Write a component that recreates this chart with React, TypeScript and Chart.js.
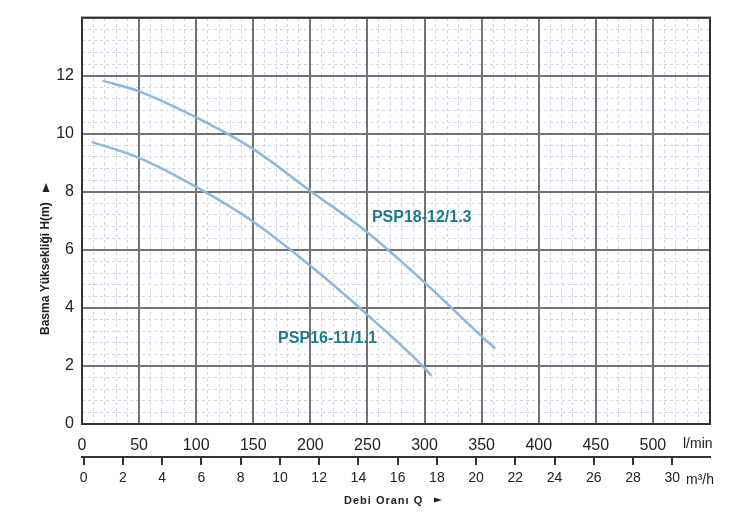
import React, { useEffect, useRef } from "react";
import { Chart, registerables } from "chart.js";

Chart.register(...registerables);

// ---- Data ----
const X_TICKS = [0, 50, 100, 150, 200, 250, 300, 350, 400, 450, 500, 550];
const Y_TICKS = [0, 2, 4, 6, 8, 10, 12, 14];
const M3H_TICKS = [0, 2, 4, 6, 8, 10, 12, 14, 16, 18, 20, 22, 24, 26, 28, 30];

const upperName = "PSP18-12/1.3";
const upperFlow = [18, 50, 100, 150, 200, 250, 300, 350, 362];
const upperHead = [11.83, 11.46, 10.56, 9.47, 8.03, 6.6, 4.88, 3.02, 2.6];

const lowerName = "PSP16-11/1.1";
const lowerFlow = [8.5, 50, 100, 150, 200, 250, 300, 306];
const lowerHead = [9.72, 9.17, 8.17, 6.97, 5.45, 3.76, 1.93, 1.66];

// label anchor positions (data units)
const upperLabelAt = [297.5, 7.12];
const lowerLabelAt = [215, 2.93];

const FONT = "'Liberation Sans', Arial, sans-serif";
const CURVE = "#8cb7de";
const TEAL = "#1b7c8a";

const range = (a: number, b: number, s: number) => {
  const out: number[] = [];
  for (let v = a; v <= b + 1e-9; v += s) out.push(Math.round(v * 1000) / 1000);
  return out;
};

const overlay = {
  id: "overlay",
  beforeDatasetsDraw(chart: any) {
    const { ctx, chartArea } = chart;
    ctx.save();
    ctx.strokeStyle = "#333";
    ctx.lineWidth = 2;
    ctx.strokeRect(chartArea.left, chartArea.top, chartArea.right - chartArea.left, chartArea.bottom - chartArea.top);
    ctx.restore();
  },
  afterDraw(chart: any) {
    const { ctx } = chart;
    const sx = chart.scales.x;
    const sy = chart.scales.y;
    ctx.save();
    // curve labels
    ctx.fillStyle = TEAL;
    ctx.font = `bold 16px ${FONT}`;
    ctx.textAlign = "center";
    ctx.textBaseline = "middle";
    ctx.fillText(upperName, sx.getPixelForValue(upperLabelAt[0]), sy.getPixelForValue(upperLabelAt[1]));
    ctx.fillText(lowerName, sx.getPixelForValue(lowerLabelAt[0]), sy.getPixelForValue(lowerLabelAt[1]));

    // unit labels
    ctx.fillStyle = "#222";
    ctx.textAlign = "left";
    ctx.textBaseline = "alphabetic";
    ctx.font = `14px ${FONT}`;
    ctx.fillText("l/min", 683, 448);
    ctx.fillText("m³/h", 686, 484);

    // x title
    ctx.font = `bold 11px ${FONT}`;
    (ctx as any).letterSpacing = "1px";
    ctx.fillText("Debi Oranı Q", 344, 504);
    (ctx as any).letterSpacing = "0px";
    ctx.beginPath();
    ctx.moveTo(434, 497.5);
    ctx.lineTo(442, 500);
    ctx.lineTo(434, 502.5);
    ctx.closePath();
    ctx.fill();

    // y title
    ctx.save();
    ctx.translate(49, 335);
    ctx.rotate(-Math.PI / 2);
    ctx.font = `bold 12px ${FONT}`;
    ctx.textAlign = "left";
    ctx.textBaseline = "alphabetic";
    ctx.fillText("Basma Yüksekliği H(m)", 0, 0);
    ctx.restore();
    ctx.beginPath();
    ctx.moveTo(46, 183);
    ctx.lineTo(49.5, 192);
    ctx.lineTo(42.5, 192);
    ctx.closePath();
    ctx.fill();
    ctx.restore();
  },
};

export default function App() {
  const ref = useRef<HTMLCanvasElement>(null);
  useEffect(() => {
    if (!ref.current) return;
    const mk = (xs: number[], ys: number[]) => xs.map((x, i) => ({ x, y: ys[i] }));
    const chart = new Chart(ref.current, {
      type: "line",
      data: {
        datasets: [
          {
            label: upperName,
            data: mk(upperFlow, upperHead),
            borderColor: CURVE,
            borderWidth: 2.5,
            pointRadius: 0,
            cubicInterpolationMode: "monotone",
            fill: false,
            xAxisID: "x",
            yAxisID: "y",
          },
          {
            label: lowerName,
            data: mk(lowerFlow, lowerHead),
            borderColor: CURVE,
            borderWidth: 2.5,
            pointRadius: 0,
            cubicInterpolationMode: "monotone",
            fill: false,
            xAxisID: "x",
            yAxisID: "y",
          },
        ],
      },
      options: {
        responsive: false,
        animation: false,
        events: [],
        layout: { padding: { top: 8, right: 32, left: 0, bottom: 0 } },
        plugins: { legend: { display: false }, tooltip: { enabled: false } },
        scales: {
          xMinor: {
            type: "linear",
            position: "top",
            min: 0,
            max: 550,
            z: -1,
            afterBuildTicks: (s: any) => { s.ticks = range(0, 550, 10).map((v) => ({ value: v })); },
            ticks: { display: false },
            grid: { color: "#d3d3e6", lineWidth: 1, drawTicks: false },
            border: { display: false, dash: [3, 3] },
            afterFit: (s: any) => { s.height = 0; },
          },
          yMinor: {
            type: "linear",
            position: "right",
            min: 0,
            max: 14,
            z: -1,
            afterBuildTicks: (s: any) => { s.ticks = range(0, 14, 0.4).map((v) => ({ value: v })); },
            ticks: { display: false },
            grid: { color: "#d3d3e6", lineWidth: 1, drawTicks: false },
            border: { display: false, dash: [3, 3] },
            afterFit: (s: any) => { s.width = 0; },
          },
          x: {
            type: "linear",
            position: "bottom",
            min: 0,
            max: 550,
            afterBuildTicks: (s: any) => { s.ticks = X_TICKS.map((v) => ({ value: v })); },
            ticks: {
              callback: (v: any) => (v === 550 ? "" : String(v)),
              font: { size: 16, family: FONT },
              color: "#222",
              padding: 12,
              maxRotation: 0,
              autoSkip: false,
            },
            grid: { color: "#727272", lineWidth: 2, drawTicks: false },
            border: { color: "#333", width: 2 },
            afterFit: (s: any) => { s.height = 33; },
          },
          x2: {
            type: "linear",
            position: "bottom",
            min: -0.087,
            max: 31.92,
            afterBuildTicks: (s: any) => { s.ticks = M3H_TICKS.map((v) => ({ value: v })); },
            ticks: {
              font: { size: 14, family: FONT },
              color: "#222",
              padding: 5,
              maxRotation: 0,
              autoSkip: false,
            },
            grid: { drawOnChartArea: false, drawTicks: true, tickLength: 8, color: "#333", lineWidth: 2 },
            border: { color: "#333", width: 2 },
            afterFit: (s: any) => { s.height = 69; },
          },
          y: {
            type: "linear",
            position: "left",
            min: 0,
            max: 14,
            afterBuildTicks: (s: any) => { s.ticks = Y_TICKS.map((v) => ({ value: v })); },
            ticks: {
              callback: (v: any) => (v === 14 ? "" : String(v)),
              font: { size: 16, family: FONT },
              color: "#222",
              padding: 8,
            },
            grid: { color: "#727272", lineWidth: 2, drawTicks: false },
            border: { color: "#333", width: 2 },
            afterFit: (s: any) => { s.width = 82; },
          },
        } as any,
      },
      plugins: [overlay],
    });
    return () => chart.destroy();
  }, []);
  return (
    <div style={{ position: "absolute", left: 0, top: 0, width: 742, height: 526, background: "#fff" }}>
      <canvas ref={ref} width={742} height={526} />
    </div>
  );
}
